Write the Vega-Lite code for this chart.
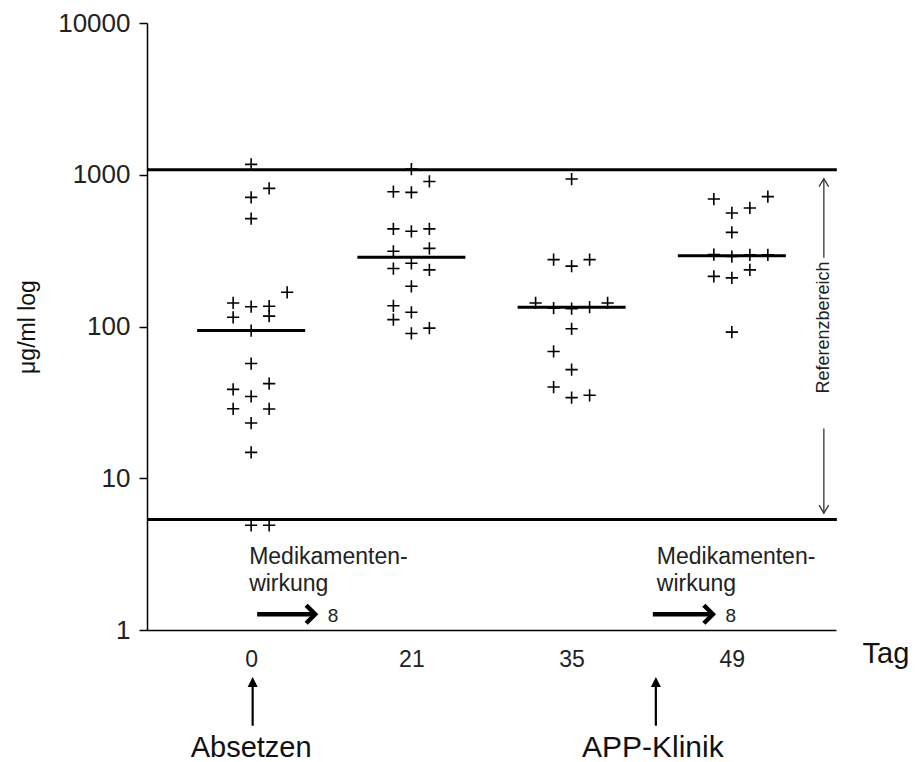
{
  "$schema": "https://vega.github.io/schema/vega-lite/v6.json",
  "width": 689,
  "height": 607,
  "autosize": {"type": "none"},
  "padding": {"left": 147, "top": 23, "right": 79, "bottom": 132},
  "background": "white",
  "config": {"view": {"stroke": null}, "font": "Liberation Sans", "axis": {"grid": false}},
  "datasets": {
    "points": [
      {"Tag": "0", "col": 0, "value": 1170}, {"Tag": "0", "col": 1, "value": 813}, {"Tag": "0", "col": 0, "value": 709},
      {"Tag": "0", "col": 0, "value": 514}, {"Tag": "0", "col": 2, "value": 168}, {"Tag": "0", "col": -1, "value": 143},
      {"Tag": "0", "col": 0, "value": 135}, {"Tag": "0", "col": 1, "value": 136}, {"Tag": "0", "col": -1, "value": 115},
      {"Tag": "0", "col": 1, "value": 117}, {"Tag": "0", "col": 0, "value": 94}, {"Tag": "0", "col": 0, "value": 57},
      {"Tag": "0", "col": -1, "value": 38.5}, {"Tag": "0", "col": 1, "value": 42}, {"Tag": "0", "col": 0, "value": 34.6},
      {"Tag": "0", "col": -1, "value": 28.7}, {"Tag": "0", "col": 1, "value": 28.6}, {"Tag": "0", "col": 0, "value": 23.1},
      {"Tag": "0", "col": 0, "value": 14.8}, {"Tag": "0", "col": 0, "value": 4.9}, {"Tag": "0", "col": 1, "value": 4.9},
      {"Tag": "21", "col": 0, "value": 1090}, {"Tag": "21", "col": 1, "value": 903}, {"Tag": "21", "col": -1, "value": 773},
      {"Tag": "21", "col": 0, "value": 765}, {"Tag": "21", "col": -1, "value": 440}, {"Tag": "21", "col": 0, "value": 424},
      {"Tag": "21", "col": 1, "value": 440}, {"Tag": "21", "col": -1, "value": 313}, {"Tag": "21", "col": 1, "value": 327},
      {"Tag": "21", "col": 0, "value": 261}, {"Tag": "21", "col": -1, "value": 241}, {"Tag": "21", "col": 1, "value": 236},
      {"Tag": "21", "col": 0, "value": 184}, {"Tag": "21", "col": -1, "value": 137}, {"Tag": "21", "col": 0, "value": 124},
      {"Tag": "21", "col": -1, "value": 111}, {"Tag": "21", "col": 0, "value": 90}, {"Tag": "21", "col": 1, "value": 97.5},
      {"Tag": "35", "col": 0, "value": 937}, {"Tag": "35", "col": -1, "value": 276}, {"Tag": "35", "col": 0, "value": 250},
      {"Tag": "35", "col": 1, "value": 276}, {"Tag": "35", "col": -2, "value": 143}, {"Tag": "35", "col": 2, "value": 143},
      {"Tag": "35", "col": -1, "value": 132}, {"Tag": "35", "col": 0, "value": 131}, {"Tag": "35", "col": 1, "value": 134},
      {"Tag": "35", "col": 0, "value": 96.6}, {"Tag": "35", "col": -1, "value": 68.5}, {"Tag": "35", "col": 0, "value": 52},
      {"Tag": "35", "col": -1, "value": 39.9}, {"Tag": "35", "col": 0, "value": 34}, {"Tag": "35", "col": 1, "value": 35.2},
      {"Tag": "49", "col": -1, "value": 692}, {"Tag": "49", "col": 2, "value": 717}, {"Tag": "49", "col": 0, "value": 560},
      {"Tag": "49", "col": 1, "value": 604}, {"Tag": "49", "col": 0, "value": 417}, {"Tag": "49", "col": -1, "value": 298},
      {"Tag": "49", "col": 0, "value": 289}, {"Tag": "49", "col": 1, "value": 297}, {"Tag": "49", "col": 2, "value": 297},
      {"Tag": "49", "col": -1, "value": 214}, {"Tag": "49", "col": 0, "value": 209}, {"Tag": "49", "col": 1, "value": 236},
      {"Tag": "49", "col": 0, "value": 91.8}
    ],
    "medians": [
      {"Tag": "0", "value": 94}, {"Tag": "21", "value": 286}, {"Tag": "35", "value": 134}, {"Tag": "49", "value": 293}
    ],
    "reflines": [{"value": 1080}, {"value": 5.35}]
  },
  "encoding": {
    "x": {"field": "Tag", "type": "ordinal",
      "scale": {"type": "point", "domain": ["0", "21", "35", "49"], "padding": 0.65},
      "axis": {"title": "Tag", "labelFontSize": 23, "labelColor": "#222", "ticks": false, "domainColor": "black", "domainWidth": 1.5,
        "labelPadding": 18, "labelAngle": 0, "titleFontSize": 29, "titleFontWeight": "normal", "titleColor": "#111",
        "titleX": 715, "titleY": 23, "titleAlign": "left", "titleBaseline": "middle", "titleAngle": 0}},
    "y": {"field": "value", "type": "quantitative",
      "scale": {"type": "log", "domain": [1, 10000], "nice": false},
      "axis": {"title": "μg/ml log", "values": [1, 10, 100, 1000, 10000], "format": "d", "tickSize": 8, "tickColor": "black",
        "tickWidth": 1.5, "domainColor": "black", "domainWidth": 1.5, "labelFontSize": 26, "labelColor": "#222", "labelPadding": 9,
        "titleFontSize": 23, "titleFontWeight": "normal", "titleColor": "#111", "titlePadding": 18}}
  },
  "layer": [
    {
      "data": {"name": "points"},
      "mark": {"type": "point", "shape": "M-1,0H1M0,-1V1", "filled": false, "color": "black", "strokeWidth": 1.6, "size": 150, "opacity": 1},
      "encoding": {
        "xOffset": {"field": "col", "type": "quantitative", "scale": {"domain": [-2, 2], "range": [-36, 36]}}
      }
    },
    {
      "data": {"name": "reflines"},
      "mark": {"type": "rule", "color": "black", "strokeWidth": 3, "xOffset": -104.2, "x2Offset": 105},
      "encoding": {
        "x": {"datum": "0"},
        "x2": {"datum": "49"}
      }
    },
    {
      "data": {"name": "medians"},
      "mark": {"type": "tick", "orient": "horizontal", "color": "black", "size": 108, "thickness": 3, "opacity": 1}
    },
    {
      "data": {"values": [{"Tag": "0", "value": 2.718, "label": "Medikamenten-"}, {"Tag": "0", "value": 1.819, "label": "wirkung"}]},
      "mark": {"type": "text", "align": "left", "baseline": "alphabetic", "dx": -2, "fontSize": 23, "color": "#222"},
      "encoding": {"text": {"field": "label"}}
    },
    {
      "data": {"values": [{"Tag": "49", "value": 2.718, "label": "Medikamenten-"}, {"Tag": "49", "value": 1.819, "label": "wirkung"}]},
      "mark": {"type": "text", "align": "left", "baseline": "alphabetic", "dx": -75, "fontSize": 23, "color": "#222"},
      "encoding": {"text": {"field": "label"}}
    },
    {
      "data": {"values": [{"Tag": "0", "value": 1.27}]},
      "mark": {"type": "rule", "color": "black", "strokeWidth": 4.5, "xOffset": 6, "x2Offset": 62},
      "encoding": {"x2": {"field": "Tag"}}
    },
    {
      "data": {"values": [{"Tag": "49", "value": 1.27}]},
      "mark": {"type": "rule", "color": "black", "strokeWidth": 4.5, "xOffset": -79, "x2Offset": -21},
      "encoding": {"x2": {"field": "Tag"}}
    },
    {
      "data": {"values": [{"Tag": "0", "value": 1.27}]},
      "mark": {"type": "point", "shape": "M-1,-1L0,0L-1,1", "filled": false, "color": "black", "strokeWidth": 4.5, "size": 324, "opacity": 1, "xOffset": 64}
    },
    {
      "data": {"values": [{"Tag": "49", "value": 1.27}]},
      "mark": {"type": "point", "shape": "M-1,-1L0,0L-1,1", "filled": false, "color": "black", "strokeWidth": 4.5, "size": 324, "opacity": 1, "xOffset": -19}
    },
    {
      "data": {"values": [{"Tag": "0", "value": 1.134, "label": "8"}]},
      "mark": {"type": "text", "align": "center", "baseline": "alphabetic", "dx": 82, "fontSize": 19, "color": "#222"},
      "encoding": {"text": {"field": "label"}}
    },
    {
      "data": {"values": [{"Tag": "49", "value": 1.134, "label": "8"}]},
      "mark": {"type": "text", "align": "center", "baseline": "alphabetic", "dx": -1, "fontSize": 19, "color": "#222"},
      "encoding": {"text": {"field": "label"}}
    },
    {
      "data": {"values": [{"Tag": "0", "value": 0.234, "value2": 0.441}]},
      "mark": {"type": "rule", "color": "black", "strokeWidth": 2.2, "xOffset": 1.5},
      "encoding": {"y2": {"field": "value2"}}
    },
    {
      "data": {"values": [{"Tag": "49", "value": 0.234, "value2": 0.441}]},
      "mark": {"type": "rule", "color": "black", "strokeWidth": 2.2, "xOffset": -76},
      "encoding": {"y2": {"field": "value2"}}
    },
    {
      "data": {"values": [{"Tag": "0", "value": 0.455}]},
      "mark": {"type": "point", "shape": "M-1,1L0,-1L1,1Z", "filled": true, "color": "black", "size": 100, "opacity": 1, "xOffset": 1.5}
    },
    {
      "data": {"values": [{"Tag": "49", "value": 0.455}]},
      "mark": {"type": "point", "shape": "M-1,1L0,-1L1,1Z", "filled": true, "color": "black", "size": 100, "opacity": 1, "xOffset": -76}
    },
    {
      "data": {"values": [{"Tag": "0", "value": 0.146, "label": "Absetzen"}]},
      "mark": {"type": "text", "align": "center", "baseline": "alphabetic", "dx": 0, "fontSize": 29, "color": "#111"},
      "encoding": {"text": {"field": "label"}}
    },
    {
      "data": {"values": [{"Tag": "49", "value": 0.146, "label": "APP-Klinik"}]},
      "mark": {"type": "text", "align": "center", "baseline": "alphabetic", "dx": -79, "fontSize": 30, "color": "#111"},
      "encoding": {"text": {"field": "label"}}
    },
    {
      "data": {"values": [{"Tag": "49", "value": 98.5, "label": "Referenzbereich"}]},
      "mark": {"type": "text", "align": "center", "baseline": "middle", "angle": 270, "xOffset": 92, "fontSize": 18, "color": "#222"},
      "encoding": {"text": {"field": "label"}}
    },
    {
      "data": {"values": [{"Tag": "49", "value": 284, "value2": 942}, {"Tag": "49", "value": 21.3, "value2": 5.89}]},
      "mark": {"type": "rule", "color": "#333", "strokeWidth": 1.3, "xOffset": 92},
      "encoding": {"y2": {"field": "value2"}}
    },
    {
      "data": {"values": [{"Tag": "49", "value": 942}]},
      "mark": {"type": "point", "shape": "M-0.6,1L0,0L0.6,1", "filled": false, "color": "#333", "strokeWidth": 1.3, "size": 256, "opacity": 1, "xOffset": 92}
    },
    {
      "data": {"values": [{"Tag": "49", "value": 5.89}]},
      "mark": {"type": "point", "shape": "M-0.6,-1L0,0L0.6,-1", "filled": false, "color": "#333", "strokeWidth": 1.3, "size": 256, "opacity": 1, "xOffset": 92}
    }
  ]
}
